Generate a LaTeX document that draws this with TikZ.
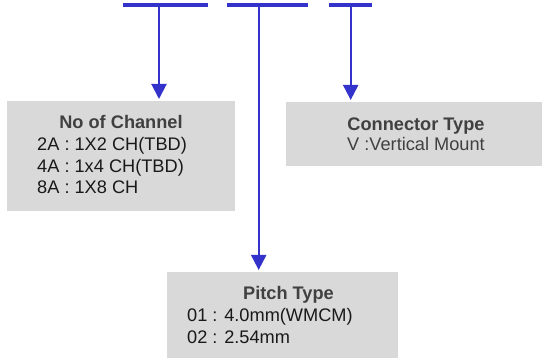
\documentclass[tikz,border=0pt]{standalone}
\usepackage{fontspec}
\setmainfont{Liberation Sans}
\usetikzlibrary{arrows.meta}
\definecolor{barblue}{HTML}{3333CC}
\definecolor{boxgray}{HTML}{D9D9D9}
\definecolor{titlegray}{HTML}{404040}
\begin{document}
\begin{tikzpicture}[
        x=1pt, y=-1pt,
        every path/.style={>={Triangle[width=15pt,length=15pt]}},
        inner sep=0pt,
        font=\fontsize{18.2}{21.5}\selectfont,
        box/.style={fill=boxgray, anchor=north west},
        bar/.style={fill=barblue, minimum height=4pt, anchor=north west},
        title/.style={font=\fontsize{18.2}{21.5}\selectfont\bfseries, text=titlegray, anchor=base},
        item/.style={text=black!90, anchor=base west},
        link/.style={->, draw=barblue, line width=2pt, shorten >=2pt}
        ]
        \useasboundingbox (0,0) rectangle (542,358);

        % bars
        \node[bar, minimum width=85pt] (bar1) at (123,3) {};
        \node[bar, minimum width=81pt] (bar2) at (227,3) {};
        \node[bar, minimum width=43pt] (bar3) at (329,3) {};

        % boxes
        \node[box, minimum width=228pt, minimum height=110pt] (chan) at (7,101) {};
        \node[box, minimum width=256pt, minimum height=64pt] (conn) at (286,102) {};
        \node[box, minimum width=231pt, minimum height=86pt] (pitch) at (167,272) {};

        % texts
        \node[title] (chant) at (121,129) {No of Channel};
        \node[item] (chan1) at (37,150.5) {2A : 1X2 CH(TBD)};
        \node[item] (chan2) at (37,172.3) {4A : 1x4 CH(TBD)};
        \node[item] (chan3) at (37,194) {8A : 1X8 CH};

        \node[title] (connt) at (416,131) {Connector Type};
        \node[anchor=base, text=titlegray] (conn1) at (416,150.5) {V :Vertical Mount};

        \node[title] (pitcht) at (288.5,299.8) {Pitch Type};
        \node[item] (pitch1) at (187,321.5) {01 : 4.0mm(WMCM)};
        \node[item] (pitch2) at (187,343.5) {02 : 2.54mm};

        % edges
        \coordinate (t1) at (159,7);
        \coordinate (t2) at (258.7,7);
        \coordinate (t3) at (350.7,7);
        \draw[link] (t1) -- (t1 |- chan.north);
        \draw[link] (t2) -- (t2 |- pitch.north);
        \draw[link] (t3) -- (t3 |- conn.north);

    \end{tikzpicture}
\end{document}
